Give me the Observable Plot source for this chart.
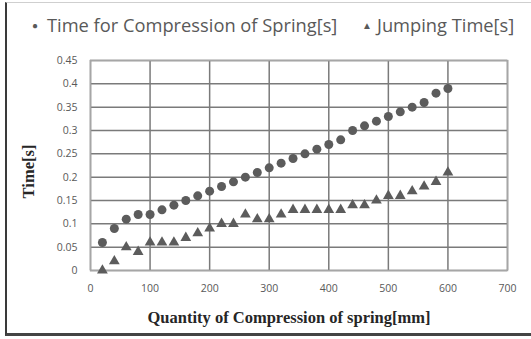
<!DOCTYPE html>
<html>
<head>
<meta charset="utf-8">
<script src="https://cdn.jsdelivr.net/npm/d3@7"></script>
<script src="https://cdn.jsdelivr.net/npm/@observablehq/plot@0.6"></script>
<style>
  html, body { margin: 0; padding: 0; background: #fff; }
  #page { position: relative; width: 531px; height: 339px; overflow: hidden; background: #fff; }
  #border { position: absolute; left: 5px; top: 2px; width: 540px; height: 334px; box-sizing: border-box;
            border-left: 2px solid #3a3a3a; border-bottom: 3px solid #444; border-top: 1px solid #cfcfcf;
            pointer-events: none; }
  #legend { position: absolute; left: 0; top: 12px; width: 531px; height: 30px;
            font-family: "Open Sans", sans-serif; font-size: 18.3px; color: #595959; white-space: nowrap; }
  #legend .item { position: absolute; top: 0; line-height: 26px; }
  #legend .sym { position: absolute; top: 0; font-size: 10px; line-height: 26px; }
  #chart { position: absolute; left: 0; top: 40px; }
</style>
</head>
<body>
<div id="page">
  <div id="legend">
    <span class="sym" style="left:32px">●</span><span class="item" style="left:47px">Time for Compression of Spring[s]</span>
    <span class="sym" style="left:362px">▲</span><span class="item" style="left:377px">Jumping Time[s]</span>
  </div>
  <div id="chart"></div>
  <div id="border"></div>
</div>
<script>
const compressionMm = [20, 40, 60, 80, 100, 120, 140, 160, 180, 200, 220, 240, 260, 280, 300,
                       320, 340, 360, 380, 400, 420, 440, 460, 480, 500, 520, 540, 560, 580, 600];
const compressionTime = [0.06, 0.09, 0.11, 0.12, 0.12, 0.13, 0.14, 0.15, 0.16, 0.17, 0.18, 0.19, 0.20, 0.21, 0.22,
                         0.23, 0.24, 0.25, 0.26, 0.27, 0.28, 0.30, 0.31, 0.32, 0.33, 0.34, 0.35, 0.36, 0.38, 0.39];
const jumpingTime = [0.00, 0.02, 0.05, 0.04, 0.06, 0.06, 0.06, 0.07, 0.08, 0.09, 0.10, 0.10, 0.12, 0.11, 0.11,
                     0.12, 0.13, 0.13, 0.13, 0.13, 0.13, 0.14, 0.14, 0.15, 0.16, 0.16, 0.17, 0.18, 0.19, 0.21];
const xTicks = [0, 100, 200, 300, 400, 500, 600, 700];
const yTicks = [0, 0.05, 0.1, 0.15, 0.2, 0.25, 0.3, 0.35, 0.4, 0.45];
const xTitle = "Quantity of Compression of spring[mm]";
const yTitle = "Time[s]";

const rows = compressionMm.map((x, i) => ({x, comp: compressionTime[i], jump: jumpingTime[i]}));
const titleFont = {fontFamily: "Liberation Serif, serif", fontWeight: "bold", fill: "#262626"};

const chart = Plot.plot({
  width: 531,
  height: 299,
  marginLeft: 90,
  marginRight: 24,
  marginTop: 20,
  marginBottom: 69,
  style: {fontFamily: "Open Sans, sans-serif", fontSize: "10.5px", color: "#595959", background: "transparent"},
  x: {domain: [0, 700]},
  y: {domain: [0, 0.45]},
  marks: [
    Plot.gridX(xTicks, {stroke: "#7a7a7a", strokeOpacity: 1, strokeWidth: 1.5}),
    Plot.gridY(yTicks, {stroke: "#7a7a7a", strokeOpacity: 1, strokeWidth: 1.5}),
    Plot.frame({stroke: "#a6a6a6", strokeWidth: 1.5}),
    Plot.dot(rows, {x: "x", y: "comp", r: 4.5, fill: "#5c5c5c", stroke: "none"}),
    Plot.dot(rows, {x: "x", y: "jump", symbol: "triangle", r: 4, fill: "#5c5c5c", stroke: "none"}),
    Plot.axisX({ticks: xTicks, tickSize: 0, tickPadding: 14, tickFormat: d => String(d), label: null}),
    Plot.axisY({ticks: yTicks, tickSize: 0, tickPadding: 13, tickFormat: d => String(+d.toFixed(2)), label: null}),
    Plot.text([xTitle], {frameAnchor: "bottom", text: d => d, textAnchor: "middle", dy: 52, dx: -10, fontSize: 16.5, ...titleFont}),
    Plot.text([yTitle], {frameAnchor: "left", text: d => d, textAnchor: "middle", rotate: -90, dx: -62, dy: 6, fontSize: 16.5, ...titleFont})
  ]
});
document.getElementById("chart").appendChild(chart);
</script>
</body>
</html>
